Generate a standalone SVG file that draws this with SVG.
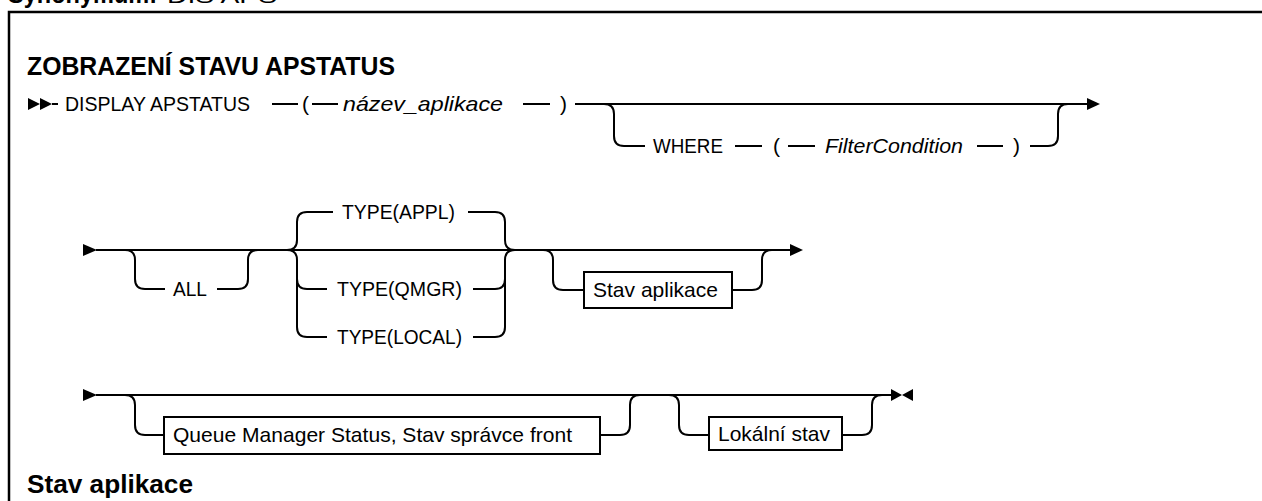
<svg xmlns="http://www.w3.org/2000/svg" width="1262" height="501" viewBox="0 0 1262 501">
<style>
  .t { font-family: "Liberation Sans", Arial, sans-serif; font-size: 21px; fill: #000; }
  .i { font-style: italic; }
  .h { font-weight: bold; font-size: 26px; }
  .ln { fill: none; stroke: #000; stroke-width: 2; }
  .box { fill: #fff; stroke: #000; stroke-width: 2; }
  .ah { fill: #000; stroke: none; }
  .frame { fill: none; stroke: #000; stroke-width: 2.5; }
</style>
<rect width="1262" height="501" fill="#fff"/>
<text class="t h" x="8" y="3" font-size="24" textLength="149" lengthAdjust="spacingAndGlyphs">Synonymum:</text>
<text class="t" x="167" y="3" font-size="24" textLength="110" lengthAdjust="spacingAndGlyphs">DIS APS</text>
<path class="frame" d="M 9 501 L 9 12 L 1262 12"/>
<text id="title" class="t h" x="27" y="75" textLength="368" lengthAdjust="spacingAndGlyphs">ZOBRAZENÍ STAVU APSTATUS</text>

<g id="connectors">
  <!-- row 1 -->
  <polygon class="ah" points="28,98 40,104 28,110"/>
  <polygon class="ah" points="40,98 52,104 40,110"/>
  <path class="ln" d="M 52 104 L 58 104"/>
  <path class="ln" d="M 272 104 L 298 104 M 312 104 L 338 104 M 523 104 L 550 104"/>
  <path class="ln" d="M 575 104 L 1088 104"/>
  <polygon class="ah" points="1087,98 1100,104 1087,110"/>
  <path class="ln" d="M 604 104 Q 614 104 614 114 L 614 136 Q 614 146 624 146 L 645 146"/>
  <path class="ln" d="M 735 146 L 762 146 M 788 146 L 815 146 M 977 146 L 1003 146"/>
  <path class="ln" d="M 1030 146 L 1048 146 Q 1058 146 1058 136 L 1058 114 Q 1058 104 1068 104"/>

  <!-- row 2 -->
  <polygon class="ah" points="83,244 97,250 83,256"/>
  <path class="ln" d="M 96 250 L 791 250"/>
  <polygon class="ah" points="790,244 803,250 790,256"/>
  <path class="ln" d="M 125 250 Q 135 250 135 260 L 135 279 Q 135 289 145 289 L 165 289"/>
  <path class="ln" d="M 217 289 L 238 289 Q 248 289 248 279 L 248 260 Q 248 250 258 250"/>
  <path class="ln" d="M 287 250 Q 297 250 297 240 L 297 222 Q 297 212 307 212 L 333 212"/>
  <path class="ln" d="M 287 250 Q 297 250 297 260 L 297 327 Q 297 337 307 337 L 327 337"/>
  <path class="ln" d="M 297 279 Q 297 289 307 289 L 327 289"/>
  <path class="ln" d="M 468 212 L 495 212 Q 505 212 505 222 L 505 240 Q 505 250 515 250"/>
  <path class="ln" d="M 473 337 L 495 337 Q 505 337 505 327 L 505 260 Q 505 250 515 250"/>
  <path class="ln" d="M 473 289 L 495 289 Q 505 289 505 279"/>
  <path class="ln" d="M 543 250 Q 553 250 553 260 L 553 280 Q 553 290 563 290 L 584 290"/>
  <path class="ln" d="M 732 290 L 752 290 Q 762 290 762 280 L 762 260 Q 762 250 772 250"/>

  <!-- row 3 -->
  <polygon class="ah" points="83,389 97,395 83,401"/>
  <path class="ln" d="M 96 395 L 892 395"/>
  <polygon class="ah" points="891,389 902,395 891,401"/>
  <polygon class="ah" points="913,389 902,395 913,401"/>
  <path class="ln" d="M 125 395 Q 135 395 135 405 L 135 425 Q 135 435 145 435 L 164 435"/>
  <path class="ln" d="M 600 435 L 620 435 Q 630 435 630 425 L 630 405 Q 630 395 640 395"/>
  <path class="ln" d="M 669 395 Q 679 395 679 405 L 679 425 Q 679 435 689 435 L 709 435"/>
  <path class="ln" d="M 842 435 L 862 435 Q 872 435 872 425 L 872 405 Q 872 395 882 395"/>
</g>

<g id="n-display"><text class="t" x="65" y="111" textLength="185" lengthAdjust="spacingAndGlyphs">DISPLAY APSTATUS</text></g>
<g id="n-lparen1"><text class="t" x="302" y="111">(</text></g>
<g id="n-appname"><text class="t i" x="343" y="111" textLength="160" lengthAdjust="spacingAndGlyphs">název_aplikace</text></g>
<g id="n-rparen1"><text class="t" x="560" y="111">)</text></g>
<g id="n-where"><text class="t" x="653" y="153" textLength="70" lengthAdjust="spacingAndGlyphs">WHERE</text></g>
<g id="n-lparen2"><text class="t" x="773" y="153">(</text></g>
<g id="n-filter"><text class="t i" x="825" y="153" textLength="138" lengthAdjust="spacingAndGlyphs">FilterCondition</text></g>
<g id="n-rparen2"><text class="t" x="1013" y="153">)</text></g>

<g id="n-all"><text class="t" x="173" y="296" textLength="34" lengthAdjust="spacingAndGlyphs">ALL</text></g>
<g id="n-appl"><text class="t" x="342" y="219" textLength="113" lengthAdjust="spacingAndGlyphs">TYPE(APPL)</text></g>
<g id="n-qmgr"><text class="t" x="337" y="296" textLength="125" lengthAdjust="spacingAndGlyphs">TYPE(QMGR)</text></g>
<g id="n-local"><text class="t" x="337" y="344" textLength="125" lengthAdjust="spacingAndGlyphs">TYPE(LOCAL)</text></g>
<g id="n-stav"><rect class="box" x="584" y="272" width="148" height="36"/><text class="t" x="593" y="297" textLength="125" lengthAdjust="spacingAndGlyphs">Stav aplikace</text></g>

<g id="n-qmstatus"><rect class="box" x="164" y="417" width="436" height="37"/><text class="t" x="173" y="442" textLength="399" lengthAdjust="spacingAndGlyphs">Queue Manager Status, Stav správce front</text></g>
<g id="n-lokalni"><rect class="box" x="709" y="417" width="133" height="33"/><text class="t" x="718" y="441" textLength="112" lengthAdjust="spacingAndGlyphs">Lokální stav</text></g>

<text id="heading2" class="t h" x="27" y="493" font-size="27" textLength="166" lengthAdjust="spacingAndGlyphs">Stav aplikace</text>
</svg>
